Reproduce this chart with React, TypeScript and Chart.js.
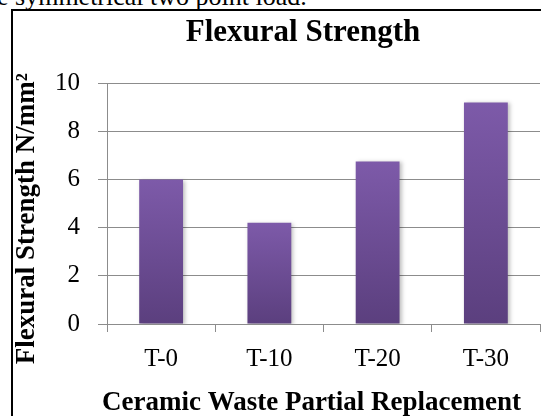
import React, { useEffect, useRef } from "react";
import { Chart, registerables } from "chart.js";

Chart.register(...registerables);

const categories = ["T-0", "T-10", "T-20", "T-30"];
const strengthValues = [6.0, 4.2, 6.75, 9.2];
const yTicks = [0, 2, 4, 6, 8, 10];

const chartTitle = "Flexural Strength";
const yTitle = "Flexural Strength N/mm²";
const xTitle = "Ceramic Waste Partial Replacement";
const aboveText = "e symmetrical two point load.";

const SERIF = "'Liberation Serif', 'Times New Roman', serif";
const AXIS_TITLE_SIZE = 27;

export default function App() {
  const canvasRef = useRef<HTMLCanvasElement | null>(null);

  useEffect(() => {
    const canvas = canvasRef.current;
    if (!canvas) return;

    const shadowPlugin = {
      id: "barShadow",
      beforeDatasetsDraw(chart: any) {
        const c = chart.ctx;
        c.save();
        c.shadowColor = "rgba(0,0,0,0.25)";
        c.shadowBlur = 4;
        c.shadowOffsetX = 2;
        c.shadowOffsetY = 1;
      },
      afterDatasetsDraw(chart: any) {
        chart.ctx.restore();
      },
    };

    // Axis titles drawn with a small offset from the slots Chart.js reserves for them
    const axisTitlePlugin = {
      id: "axisTitles",
      afterDraw(chart: any) {
        const c = chart.ctx;
        const area = chart.chartArea;
        const xs = chart.scales.x;
        const ys = chart.scales.y;
        const lh = AXIS_TITLE_SIZE * 1.2;
        c.save();
        c.fillStyle = "#000";
        c.font = `bold ${AXIS_TITLE_SIZE}px ${SERIF}`;
        c.textAlign = "center";
        c.textBaseline = "middle";
        const xcx = (area.left + area.right) / 2 - 12;
        const xcy = xs.bottom - lh / 2;
        c.fillText(xTitle, xcx, xcy);
        const ycx = ys.left + lh / 2 + 6.4;
        const ycy = (area.top + area.bottom) / 2 + 15;
        c.translate(ycx, ycy);
        c.rotate(-Math.PI / 2);
        c.fillText(yTitle, 0, 0);
        c.restore();
      },
    };

    const chart = new Chart(canvas, {
      type: "bar",
      data: {
        labels: categories,
        datasets: [
          {
            label: "Flexural Strength",
            data: strengthValues,
            backgroundColor: (ctx: any) => {
              const ch = ctx.chart;
              const y = ch.scales && ch.scales.y;
              if (!ch.chartArea || !y || ctx.type !== "data") return "#6b4c94";
              const top = y.getPixelForValue(ctx.raw as number);
              const bottom = y.getPixelForValue(0);
              const g = ch.ctx.createLinearGradient(0, top, 0, bottom);
              g.addColorStop(0, "#7d5aa9");
              g.addColorStop(1, "#5b3f7e");
              return g;
            },
            borderWidth: 0,
            categoryPercentage: 1,
            barPercentage: 0.405,
          },
        ],
      },
      options: {
        animation: false,
        responsive: false,
        layout: { padding: { left: 4.6, right: 4.6, top: 0, bottom: 0 } },
        plugins: {
          legend: { display: false },
          tooltip: { enabled: false },
          title: {
            display: true,
            text: chartTitle,
            color: "#000",
            font: { family: SERIF, size: 31, weight: "bold" },
            padding: { top: 14, bottom: 32 },
          },
        },
        scales: {
          x: {
            grid: {
              display: true,
              drawOnChartArea: false,
              drawTicks: true,
              tickLength: 8,
              color: "#8c8c8c",
            },
            border: { color: "#8c8c8c" },
            ticks: {
              color: "#000",
              font: { family: SERIF, size: 25 },
              padding: 12.3,
            },
            title: {
              display: true,
              text: xTitle,
              color: "rgba(0,0,0,0)",
              font: { family: SERIF, size: AXIS_TITLE_SIZE, weight: "bold" },
              padding: { top: 0, bottom: 0 },
            },
          },
          y: {
            min: 0,
            max: 10,
            afterBuildTicks: (scale: any) => {
              scale.ticks = yTicks.map((v) => ({ value: v }));
            },
            grid: {
              color: "#8c8c8c",
              tickLength: 9,
            },
            border: { color: "#8c8c8c" },
            ticks: {
              color: "#000",
              font: { family: SERIF, size: 25 },
              padding: 18,
            },
            title: {
              display: true,
              text: yTitle,
              color: "rgba(0,0,0,0)",
              font: { family: SERIF, size: AXIS_TITLE_SIZE, weight: "bold" },
              padding: { top: 0, bottom: 0 },
            },
          },
          yRight: {
            type: "linear",
            position: "right",
            display: true,
            grid: { display: false, drawTicks: false },
            border: { display: false },
            ticks: { display: false },
            afterFit: (scale: any) => {
              scale.width = 61.4;
            },
          },
        },
      },
      plugins: [shadowPlugin, axisTitlePlugin],
    });

    return () => chart.destroy();
  }, []);

  return (
    <div
      style={{
        position: "absolute",
        left: 0,
        top: 0,
        width: 541,
        height: 416,
        overflow: "hidden",
        background: "#fff",
      }}
    >
      <div
        style={{
          position: "absolute",
          left: -3,
          top: -16,
          fontFamily: SERIF,
          fontSize: 26,
          lineHeight: "26px",
          whiteSpace: "nowrap",
          color: "#000",
        }}
      >
        {aboveText}
      </div>
      <div
        style={{
          position: "absolute",
          left: 11,
          top: 9,
          width: 700,
          height: 600,
          border: "2px solid #000",
          boxSizing: "border-box",
        }}
      />
      <canvas
        ref={canvasRef}
        width={606}
        height={419}
        style={{ position: "absolute", left: 0, top: 0, width: 606, height: 419 }}
      />
    </div>
  );
}
